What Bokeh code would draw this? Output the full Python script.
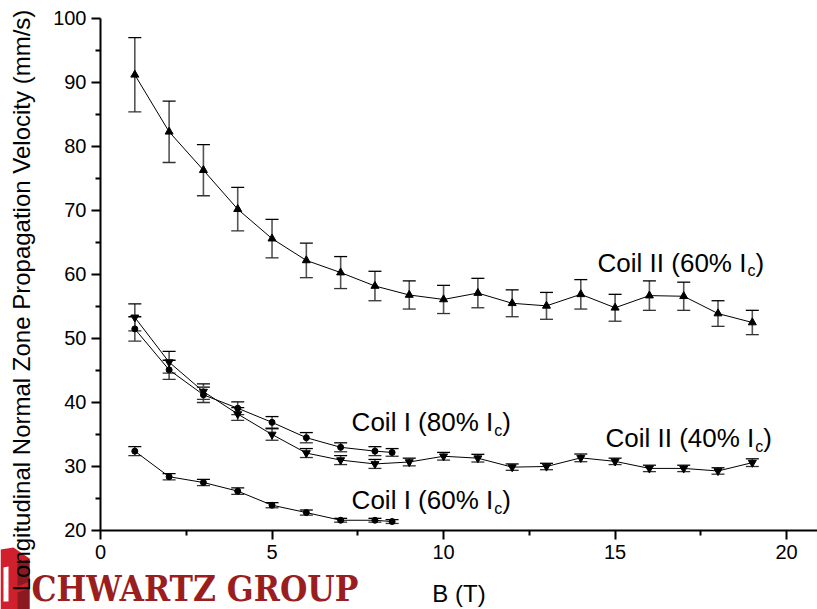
import math
from bokeh.plotting import figure
from bokeh.models import ColumnDataSource, Whisker, TeeHead, Label, PolyAnnotation, FixedTicker
from bokeh.embed import file_html
from bokeh.resources import INLINE

# Magnetic field B (T) and measured velocities (mm/s) with error bars
b_coil2_60 = [1, 2, 3, 4, 5, 6, 7, 8, 9, 10, 11, 12, 13, 14, 15, 16, 17, 18, 19]
v_coil2_60 = [91.2, 82.3, 76.3, 70.2, 65.6, 62.2, 60.3, 58.2, 56.8, 56.1, 57.1,
              55.5, 55.1, 56.9, 54.8, 56.7, 56.6, 53.9, 52.5]
e_coil2_60 = [5.8, 4.8, 4.0, 3.4, 3.0, 2.7, 2.5, 2.3, 2.2, 2.2, 2.3, 2.1, 2.1,
              2.3, 2.1, 2.3, 2.2, 2.0, 1.9]

b_coil1_80 = [1, 2, 3, 4, 5, 6, 7, 8, 8.5]
v_coil1_80 = [51.5, 45.1, 41.2, 39.1, 36.9, 34.5, 33.0, 32.4, 32.2]
e_coil1_80 = [1.9, 1.5, 1.2, 1.0, 0.9, 0.8, 0.7, 0.7, 0.6]

b_coil2_40 = [1, 2, 3, 4, 5, 6, 7, 8, 9, 10, 11, 12, 13, 14, 15, 16, 17, 18, 19]
v_coil2_40 = [53.3, 46.3, 41.7, 38.2, 35.0, 32.1, 31.0, 30.4, 30.7, 31.6, 31.3,
              29.9, 30.0, 31.35, 30.8, 29.7, 29.7, 29.3, 30.6]
e_coil2_40 = [2.1, 1.7, 1.2, 1.0, 0.9, 0.7, 0.7, 0.7, 0.6, 0.6, 0.6, 0.5, 0.5,
              0.6, 0.5, 0.5, 0.5, 0.5, 0.6]

b_coil1_60 = [1, 2, 3, 4, 5, 6, 7, 8, 8.5]
v_coil1_60 = [32.4, 28.4, 27.5, 26.15, 23.95, 22.8, 21.6, 21.6, 21.4]
e_coil1_60 = [0.7, 0.5, 0.5, 0.5, 0.4, 0.4, 0.3, 0.3, 0.3]

x_ticks = [0, 5, 10, 15, 20]
x_minor = [2.5, 7.5, 12.5, 17.5]
y_ticks = [20, 30, 40, 50, 60, 70, 80, 90, 100]
y_minor = [25, 35, 45, 55, 65, 75, 85, 95]

FONT = "Liberation Sans"

# The plotting area spans the whole canvas; the axes are pinned at B=0 and v=20
p = figure(width=817, height=609, x_range=(-2.915, 20.9), y_range=(7.656, 102.81),
           output_backend="svg", toolbar_location=None,
           min_border_left=0, min_border_top=0, min_border_bottom=0,
           min_border_right=0)
p.outline_line_color = None
p.grid.grid_line_color = None
p.background_fill_color = "white"
p.border_fill_color = "white"

p.xaxis.fixed_location = 20
p.xaxis.bounds = (0, 22)
p.yaxis.fixed_location = 0
p.yaxis.bounds = (20, 100)

for ax, ticks, minor in ((p.xaxis[0], x_ticks, x_minor),
                         (p.yaxis[0], y_ticks, y_minor)):
    ax.ticker = FixedTicker(ticks=ticks, minor_ticks=minor)
    ax.axis_line_width = 2
    ax.axis_line_color = "black"
    ax.major_tick_line_width = 2
    ax.minor_tick_line_width = 2
    ax.major_tick_out = 9
    ax.major_tick_in = 0
    ax.minor_tick_out = 5
    ax.minor_tick_in = 0
    ax.major_label_text_font = FONT
    ax.major_label_text_font_size = "20px"
    ax.major_label_text_color = "black"
    ax.axis_label_text_font = FONT
    ax.axis_label_text_font_size = "24px"
    ax.axis_label_text_font_style = "normal"
    ax.axis_label_text_color = "black"

p.xaxis.axis_label = "B (T)"
p.xaxis.major_label_standoff = 6
p.yaxis.major_label_standoff = 5
p.xaxis.axis_label_standoff = 17

# Group watermark in the lower-left corner (screen units, y measured from the bottom)
H = 609
def flip(pts):
    return [q[0] for q in pts], [H - q[1] for q in pts]

for pts, col in (
    ([(0, 549), (13, 547), (29, 558), (29, 609), (0, 609)], "#d0202e"),
    ([(17, 563), (29, 558), (29, 581), (17, 586)], "#8a1a20"),
    ([(17, 592), (29, 588), (29, 609), (17, 609)], "#8a1a20"),
    ([(3, 567), (8, 566), (8, 601), (3, 601)], "white"),
):
    xs, ys = flip(pts)
    p.add_layout(PolyAnnotation(xs=xs, ys=ys, xs_units="screen", ys_units="screen",
                                fill_color=col, fill_alpha=1, line_color=None,
                                level="underlay"))
p.add_layout(Label(x=31, y=21, x_units="screen", y_units="screen",
                   text="CHWARTZ GROUP", text_font="DejaVu Serif Condensed",
                   text_font_style="bold", text_font_size="35px",
                   text_color="#9b1e1e", text_baseline="alphabetic",
                   level="underlay"))

# Vertical axis title
p.add_layout(Label(x=21, y=H - 300, x_units="screen", y_units="screen",
                   angle=math.pi / 2, text="Longitudinal Normal Zone Propagation Velocity (mm/s)",
                   text_font=FONT, text_font_size="24px", text_color="black",
                   text_align="center", text_baseline="middle"))

series = [
    (b_coil2_60, v_coil2_60, e_coil2_60, "triangle", 8),
    (b_coil1_80, v_coil1_80, e_coil1_80, "circle", 6),
    (b_coil2_40, v_coil2_40, e_coil2_40, "inverted_triangle", 8),
    (b_coil1_60, v_coil1_60, e_coil1_60, "circle", 6),
]

for bx, vy, err, marker, size in series:
    src = ColumnDataSource(dict(
        x=bx, y=vy,
        lo=[v - e for v, e in zip(vy, err)],
        hi=[v + e for v, e in zip(vy, err)],
    ))
    p.add_layout(Whisker(source=src, base="x", lower="lo", upper="hi",
                         line_color="#555555", line_width=1.6,
                         upper_head=TeeHead(size=13, line_color="black", line_width=1.3),
                         lower_head=TeeHead(size=13, line_color="#333333", line_width=1.3)))
    p.line("x", "y", source=src, line_color="black", line_width=1)
    p.scatter("x", "y", source=src, marker=marker, size=size,
              fill_color="black", line_color="black")

# Series labels with subscript c
labels = [
    ("Coil II (60% I", 14.49, 61.8),
    ("Coil I (80% I", 7.32, 36.9),
    ("Coil II (40% I", 14.72, 34.45),
    ("Coil I (60% I", 7.32, 24.7),
]
LBL = 26
# advance widths of Liberation Sans (Arial metrics), per 1000 em
widths = {"C": 722, "o": 556, "i": 222, "l": 222, " ": 278, "I": 278,
          "(": 333, "6": 556, "0": 556, "8": 556, "4": 556, "%": 889}
for txt, lx, ly in labels:
    p.add_layout(Label(x=lx, y=ly, text=txt, text_font=FONT,
                       text_font_size=f"{LBL}px", text_color="black",
                       text_baseline="alphabetic"))
    w = sum(widths[ch] for ch in txt) / 1000 * LBL
    p.add_layout(Label(x=lx, y=ly, x_offset=w + 1, y_offset=-8, text="c",
                       text_font=FONT, text_font_size="16px", text_color="black",
                       text_baseline="alphabetic"))
    p.add_layout(Label(x=lx, y=ly, x_offset=w + 9, text=")", text_font=FONT,
                       text_font_size=f"{LBL}px", text_color="black",
                       text_baseline="alphabetic"))

open("out.html", "w").write(file_html(p, INLINE))
